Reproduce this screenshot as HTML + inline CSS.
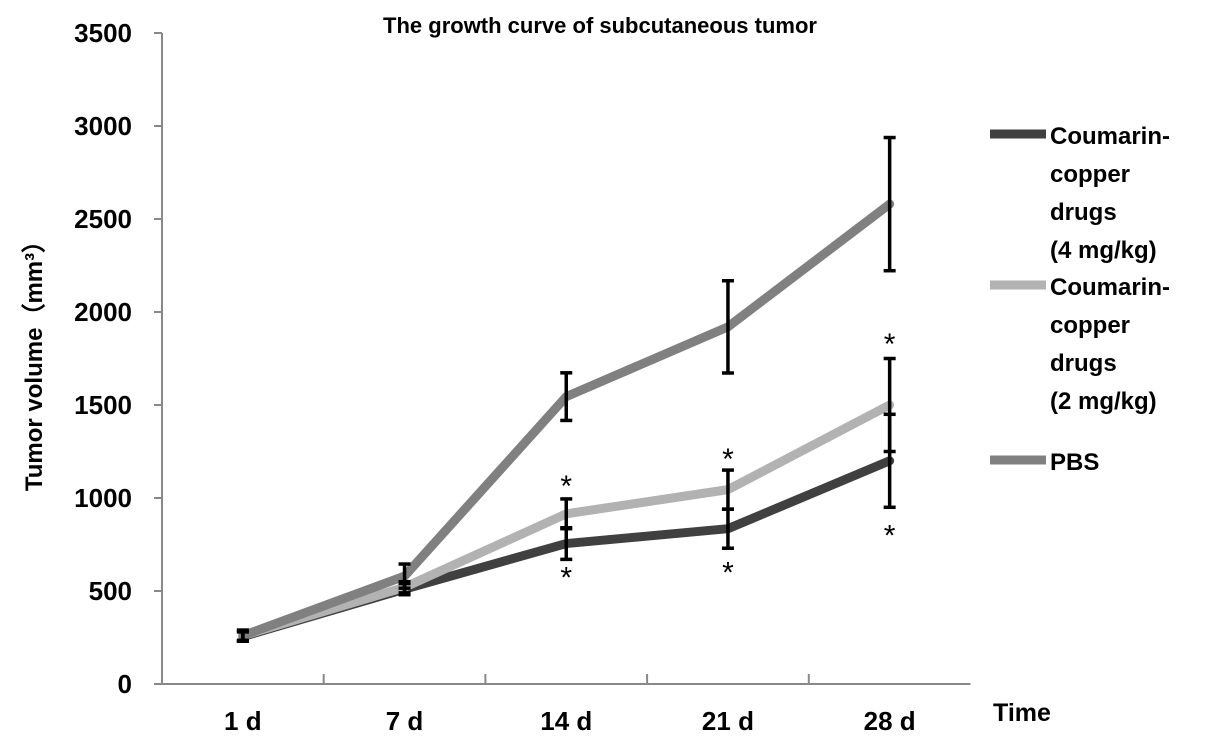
<!DOCTYPE html>
<html><head><meta charset="utf-8"><style>
body{margin:0;background:#fff;}
svg{display:block;font-family:"Liberation Sans",Arial,sans-serif;font-weight:bold;}
</style></head><body>
<svg id="chart" width="1205" height="748">
<text x="600" y="33" text-anchor="middle" font-size="22">The growth curve of subcutaneous tumor</text>
<text transform="translate(42,360) rotate(-90)" text-anchor="middle" font-size="24">Tumor volume（mm³）</text>
<text x="993" y="721" font-size="25">Time</text>
<g id="axes"></g><g id="series"></g><g id="legend"></g>
</svg>
<script>
const categories=["1 d","7 d","14 d","21 d","28 d"];
const yTicks=[0,500,1000,1500,2000,2500,3000,3500];
const seriesNames=["Coumarin-copper drugs (4 mg/kg)","Coumarin-copper drugs (2 mg/kg)","PBS"];
const dose4=[255,510,755,835,1200];
const dose4Err=[25,30,85,105,250];
const dose2=[260,520,915,1045,1500];
const dose2Err=[25,30,80,105,250];
const pbs=[260,580,1545,1920,2580];
const pbsErr=[30,65,128,248,358];
const starsAbove=[null,null,1085,1230,1850];
const starsBelow=[null,null,595,620,820];
const NS="http://www.w3.org/2000/svg";
const x0=162,cw=161.7,yb=684,yt=33,ymax=3500;
const X=i=>x0+cw*(i+0.5);
const Y=v=>yb-(v/ymax)*(yb-yt);
function mk(t,a,p){const e=document.createElementNS(NS,t);for(const k in a)e.setAttribute(k,a[k]);p.appendChild(e);return e;}
const axes=document.getElementById('axes');
let e=mk('line',{x1:x0,y1:yt,x2:x0,y2:yb,stroke:'#888','stroke-width':2},axes);

e=mk('line',{x1:x0,y1:yb,x2:x0+cw*5,y2:yb,stroke:'#888','stroke-width':2},axes);

yTicks.forEach(v=>{
 mk('line',{x1:x0-8,y1:Y(v),x2:x0,y2:Y(v),stroke:'#888','stroke-width':2},axes);
 const t=mk('text',{x:132,y:Y(v)+9,'text-anchor':'end','font-size':26},axes);t.textContent=v;
 
});
for(let i=1;i<5;i++)mk('line',{x1:x0+cw*i,y1:yb,x2:x0+cw*i,y2:yb-10,stroke:'#888','stroke-width':2},axes);
categories.forEach((c,i)=>{const t=mk('text',{x:X(i),y:730,'text-anchor':'middle','font-size':26},axes);t.textContent=c;
 });
const sg=document.getElementById('series');
const defs=[[dose4,dose4Err,'#404040','line-4mg'],[dose2,dose2Err,'#b2b2b2','line-2mg'],[pbs,pbsErr,'#808080','line-pbs']];
defs.forEach(([d,er,col,name])=>{
 const p=mk('polyline',{points:d.map((v,i)=>X(i)+','+Y(v)).join(' '),fill:'none',stroke:col,'stroke-width':9,'stroke-linejoin':'round','stroke-linecap':'round'},sg);
 
});
defs.forEach(([d,er])=>{d.forEach((v,i)=>{
 const g=mk('g',{stroke:'#000','stroke-width':3.5},sg);
 
 const x=X(i),a=Y(v+er[i]),b=Y(v-er[i]);
 mk('line',{x1:x,y1:a,x2:x,y2:b},g);mk('line',{x1:x-6,y1:a,x2:x+6,y2:a},g);mk('line',{x1:x-6,y1:b,x2:x+6,y2:b},g);
});});
[starsAbove,starsBelow].forEach(arr=>arr.forEach((v,i)=>{if(v==null)return;
 const t=mk('text',{x:X(i),y:Y(v)+14,'text-anchor':'middle','font-size':30,'font-weight':'normal'},sg);t.textContent='*';
 }));
const lg=document.getElementById('legend');
const legY=[134,285,460],cols=['#404040','#b2b2b2','#808080'];
const legLines=[["Coumarin-","copper","drugs","(4 mg/kg)"],["Coumarin-","copper","drugs","(2 mg/kg)"],["PBS"]];
legLines.forEach((ls,k)=>{
 const g=mk('g',{},lg);
 mk('line',{x1:990,y1:legY[k],x2:1046,y2:legY[k],stroke:cols[k],'stroke-width':9},g);
 ls.forEach((s,j)=>{const t=mk('text',{x:1050,y:legY[k]+10+j*38,'font-size':24},g);t.textContent=s;});
});
</script>
</body></html>
